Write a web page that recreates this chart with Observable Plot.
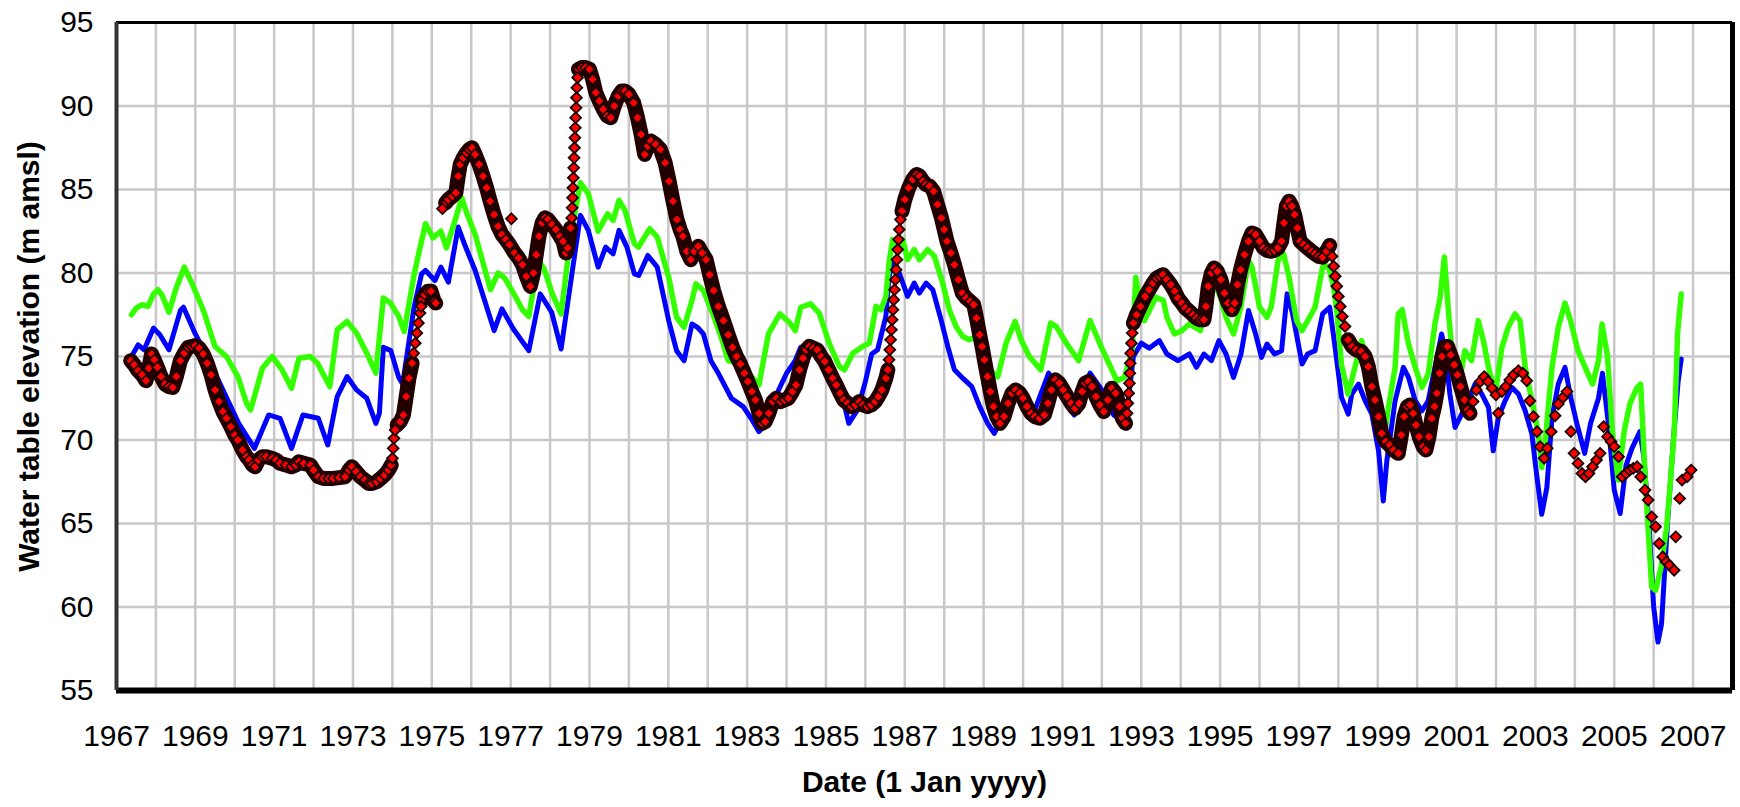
<!DOCTYPE html>
<html>
<head>
<meta charset="utf-8">
<script src="https://cdn.jsdelivr.net/npm/d3@7"></script>
<script src="https://cdn.jsdelivr.net/npm/@observablehq/plot@0.6"></script>
<style>
  html, body { margin: 0; padding: 0; background: #fff; }
  #chart svg { display: block; }
</style>
</head>
<body>
<div id="chart"></div>
<script>
// ---- Data ----
const xTickLabels = [1967, 1969, 1971, 1973, 1975, 1977, 1979, 1981, 1983, 1985, 1987, 1989, 1991, 1993, 1995, 1997, 1999, 2001, 2003, 2005, 2007];
const yTicks = [55, 60, 65, 70, 75, 80, 85, 90, 95];
const gridYears = [1967,1968,1969,1970,1971,1972,1973,1974,1975,1976,1977,1978,1979,1980,1981,1982,1983,1984,1985,1986,1987,1988,1989,1990,1991,1992,1993,1994,1995,1996,1997,1998,1999,2000,2001,2002,2003,2004,2005,2006,2007,2008];

// modelled series (green)
const greenSeries = [
[1967.38,77.5],[1967.5,77.9],[1967.65,78.1],[1967.8,78.0],[1967.94,78.75],[1968.05,79.0],[1968.15,78.7],[1968.33,77.65],
[1968.5,79.0],[1968.62,79.75],[1968.72,80.35],[1968.91,79.4],[1969.2,77.8],[1969.5,75.6],[1969.79,75.0],[1970.08,73.8],
[1970.3,72.2],[1970.4,71.8],[1970.5,72.6],[1970.7,74.3],[1970.95,75.0],[1971.2,74.2],[1971.44,73.1],[1971.63,74.9],
[1971.92,75.0],[1972.1,74.6],[1972.41,73.2],[1972.6,76.6],[1972.85,77.1],[1973.09,76.4],[1973.35,75.2],[1973.58,74.0],
[1973.77,78.5],[1973.95,78.2],[1974.16,77.4],[1974.3,76.5],[1974.55,79.9],[1974.7,81.5],[1974.84,82.95],[1975.03,82.1],
[1975.23,82.5],[1975.37,81.5],[1975.57,83.0],[1975.76,84.5],[1975.9,83.5],[1976.1,82.3],[1976.49,79.0],[1976.68,80.0],
[1976.85,79.7],[1977.07,78.8],[1977.3,77.8],[1977.46,77.4],[1977.7,80.75],[1977.85,80.25],[1978.05,78.8],[1978.28,77.55],
[1978.53,82.3],[1978.77,85.4],[1978.97,84.75],[1979.22,82.5],[1979.46,83.55],[1979.6,83.15],[1979.75,84.35],[1979.9,83.75],
[1980.14,81.75],[1980.24,81.55],[1980.53,82.65],[1980.72,82.15],[1981.01,79.75],[1981.21,77.35],[1981.4,76.75],[1981.6,78.35],
[1981.7,79.35],[1981.89,78.95],[1982.13,77.55],[1982.37,75.95],[1982.52,74.75],[1982.76,74.65],[1983.05,73.95],[1983.3,73.3],
[1983.54,76.35],[1983.83,77.55],[1984.07,77.05],[1984.22,76.55],[1984.36,77.95],[1984.61,78.15],[1984.83,77.6],[1985.08,75.8],
[1985.34,74.4],[1985.47,74.2],[1985.68,75.2],[1985.93,75.6],[1986.1,75.8],[1986.27,78.0],[1986.4,77.8],[1986.52,78.6],
[1986.6,80.6],[1986.69,82.0],[1986.82,81.2],[1986.95,82.0],[1987.07,80.8],[1987.24,81.4],[1987.37,80.8],[1987.58,81.4],
[1987.75,81.0],[1987.96,79.4],[1988.13,77.8],[1988.3,76.8],[1988.47,76.2],[1988.64,76.0],[1988.81,76.2],[1988.98,75.0],
[1989.15,74.2],[1989.36,73.8],[1989.57,75.8],[1989.8,77.1],[1989.95,76.0],[1990.16,75.0],[1990.45,74.2],[1990.7,77.0],
[1990.84,76.8],[1991.11,75.75],[1991.41,74.75],[1991.7,77.15],[1991.99,75.55],[1992.38,73.55],[1992.57,73.75],[1992.77,75.35],
[1992.86,79.75],[1992.95,78.5],[1993.08,77.15],[1993.37,78.55],[1993.56,78.35],[1993.65,77.35],[1993.84,76.35],[1994.03,76.55],
[1994.22,76.95],[1994.5,76.55],[1994.69,78.35],[1994.87,79.35],[1995.01,78.55],[1995.15,77.35],[1995.34,76.35],[1995.53,78.0],
[1995.72,80.75],[1995.81,80.35],[1996.0,77.95],[1996.19,77.35],[1996.3,78.0],[1996.47,80.75],[1996.61,81.15],[1996.75,79.75],
[1996.94,77.15],[1997.08,76.55],[1997.27,77.35],[1997.41,77.95],[1997.6,80.35],[1997.75,80.4],[1997.88,79.15],[1997.97,77.5],
[1998.08,74.5],[1998.25,72.75],[1998.42,74.35],[1998.59,75.95],[1998.72,74.75],[1998.85,72.35],[1999.02,70.35],[1999.14,69.75],
[1999.27,71.95],[1999.44,74.35],[1999.52,77.55],[1999.62,77.8],[1999.78,75.75],[1999.95,74.35],[2000.12,73.15],[2000.28,73.95],
[2000.45,76.95],[2000.58,78.5],[2000.69,80.95],[2000.8,77.5],[2000.9,74.8],[2001.05,73.15],[2001.21,75.35],[2001.38,74.75],
[2001.55,77.15],[2001.68,75.95],[2001.81,74.35],[2001.98,72.75],[2002.15,75.55],[2002.31,76.75],[2002.48,77.55],[2002.61,77.15],
[2002.74,74.35],[2002.91,72.35],[2003.08,70.35],[2003.16,68.35],[2003.25,69.95],[2003.42,74.35],[2003.58,76.75],[2003.75,78.2],
[2003.89,77.15],[2004.08,75.35],[2004.26,74.35],[2004.45,73.35],[2004.6,74.75],[2004.69,76.95],[2004.83,75.0],[2004.95,70.5],
[2005.1,67.6],[2005.25,70.5],[2005.4,72.2],[2005.58,73.15],[2005.67,73.35],[2005.8,67.0],[2005.95,61.2],[2006.05,61.0],
[2006.19,62.4],[2006.33,64.8],[2006.42,67.4],[2006.52,70.4],[2006.61,76.5],[2006.7,78.75]
];

// modelled series (blue)
const blueSeries = [
[1967.38,75.0],[1967.55,75.7],[1967.7,75.4],[1967.94,76.7],[1968.1,76.3],[1968.33,75.4],[1968.62,77.75],[1968.7,77.95],
[1969.0,76.35],[1969.25,75.2],[1969.5,74.0],[1969.8,72.5],[1970.1,71.0],[1970.5,69.5],[1970.86,71.5],[1971.15,71.3],
[1971.44,69.5],[1971.73,71.5],[1972.12,71.3],[1972.36,69.7],[1972.6,72.6],[1972.85,73.8],[1973.09,73.0],[1973.35,72.5],
[1973.58,71.0],[1973.67,71.6],[1973.77,75.55],[1973.96,75.35],[1974.16,73.75],[1974.26,73.35],[1974.55,77.95],[1974.74,79.95],
[1974.84,80.15],[1975.08,79.55],[1975.23,80.35],[1975.42,79.45],[1975.67,82.75],[1975.85,81.6],[1976.1,80.15],[1976.58,76.55],
[1976.78,77.85],[1977.07,76.65],[1977.46,75.35],[1977.75,78.75],[1978.04,77.65],[1978.28,75.45],[1978.53,79.55],[1978.77,83.45],
[1978.97,82.55],[1979.22,80.35],[1979.41,81.55],[1979.6,81.15],[1979.75,82.55],[1979.95,81.55],[1980.14,79.95],[1980.25,79.85],
[1980.48,81.05],[1980.72,80.35],[1981.01,77.15],[1981.21,75.35],[1981.4,74.75],[1981.6,76.95],[1981.74,76.75],[1981.89,76.35],
[1982.08,74.75],[1982.28,73.95],[1982.6,72.5],[1982.9,72.0],[1983.1,71.3],[1983.3,70.5],[1983.5,71.0],[1983.7,72.5],
[1984.0,74.0],[1984.22,74.75],[1984.36,75.55],[1984.61,75.75],[1985.0,74.35],[1985.38,72.95],[1985.58,71.0],[1985.8,71.8],
[1986.0,73.5],[1986.16,75.15],[1986.31,75.4],[1986.52,77.4],[1986.6,79.8],[1986.73,80.8],[1986.86,80.0],[1987.07,78.6],
[1987.24,79.4],[1987.37,78.8],[1987.54,79.4],[1987.71,79.0],[1987.92,77.2],[1988.09,75.6],[1988.26,74.2],[1988.47,73.7],
[1988.7,73.2],[1988.9,72.0],[1989.1,71.0],[1989.27,70.4],[1989.5,71.5],[1989.7,73.0],[1990.0,72.5],[1990.3,71.8],
[1990.65,74.0],[1991.0,72.5],[1991.3,71.5],[1991.7,74.0],[1992.0,73.0],[1992.3,71.5],[1992.6,71.0],[1992.8,75.0],
[1993.0,75.8],[1993.2,75.5],[1993.46,75.95],[1993.65,75.15],[1993.93,74.75],[1994.22,75.15],[1994.4,74.35],[1994.59,75.15],
[1994.78,74.75],[1994.97,75.95],[1995.15,75.15],[1995.34,73.75],[1995.53,75.15],[1995.72,77.75],[1995.9,76.35],[1996.05,74.95],
[1996.19,75.75],[1996.38,75.15],[1996.56,75.35],[1996.7,78.75],[1996.84,77.55],[1997.08,74.55],[1997.22,75.15],[1997.41,75.35],
[1997.6,77.55],[1997.78,77.95],[1997.92,75.5],[1998.08,72.55],[1998.25,71.55],[1998.34,72.75],[1998.51,73.35],[1998.68,72.35],
[1998.85,71.55],[1999.02,69.35],[1999.1,67.35],[1999.14,66.35],[1999.23,68.75],[1999.44,72.35],[1999.65,74.35],[1999.78,73.75],
[1999.95,72.35],[2000.12,71.75],[2000.28,72.35],[2000.45,74.35],[2000.62,76.35],[2000.71,75.35],[2000.83,72.75],[2000.96,70.75],
[2001.13,71.55],[2001.3,72.35],[2001.47,73.35],[2001.64,72.75],[2001.81,71.95],[2001.93,69.35],[2002.06,71.35],[2002.23,72.35],
[2002.4,73.15],[2002.57,72.75],[2002.74,71.75],[2002.91,70.35],[2003.03,67.95],[2003.16,65.55],[2003.29,67.15],[2003.42,71.35],
[2003.58,73.35],[2003.75,74.35],[2003.9,72.5],[2004.05,71.0],[2004.25,69.2],[2004.4,71.0],[2004.6,72.5],[2004.7,74.0],
[2004.85,71.0],[2005.0,67.0],[2005.15,65.6],[2005.3,68.5],[2005.45,69.5],[2005.65,70.5],[2005.75,69.0],[2005.88,65.0],
[2006.0,60.0],[2006.11,57.9],[2006.2,59.0],[2006.35,65.0],[2006.5,70.0],[2006.62,73.5],[2006.7,74.85]
];

// observed water table, densely measured stretches (null = break in the dense band)
const obsDense = [
[1967.36,74.75],[1967.45,74.5],[1967.55,74.15],[1967.65,73.9],[1967.75,73.55],[1967.82,74.3],[1967.89,75.15],[1967.96,74.8],
[1968.04,74.35],[1968.13,73.8],[1968.23,73.35],[1968.33,73.2],[1968.43,73.15],[1968.52,73.8],[1968.62,74.75],[1968.72,75.2],
[1968.82,75.55],[1968.91,75.6],[1969.0,75.65],[1969.1,75.5],[1969.2,75.15],[1969.3,74.6],[1969.4,73.9],[1969.5,73.0],
[1969.6,72.3],[1969.7,71.7],[1969.79,71.3],[1969.9,70.8],[1970.0,70.3],[1970.08,70.0],[1970.2,69.4],[1970.3,69.0],
[1970.37,68.8],[1970.45,68.5],[1970.52,68.4],[1970.6,68.8],[1970.7,69.0],[1970.8,69.0],[1970.95,68.9],[1971.05,68.8],
[1971.15,68.6],[1971.3,68.5],[1971.44,68.4],[1971.55,68.5],[1971.63,68.7],[1971.75,68.6],[1971.92,68.5],[1972.0,68.2],
[1972.12,67.8],[1972.25,67.7],[1972.38,67.7],[1972.5,67.7],[1972.65,67.75],[1972.8,67.8],[1972.9,68.2],[1972.97,68.4],
[1973.08,68.1],[1973.19,67.8],[1973.3,67.6],[1973.4,67.4],[1973.48,67.4],[1973.6,67.5],[1973.7,67.7],[1973.8,67.9],
[1973.9,68.2],[1973.97,68.5],
[1973.99,null],
[1974.12,70.9],[1974.2,71.1],[1974.28,71.5],[1974.35,72.6],[1974.42,73.7],[1974.5,74.6],
[1974.53,null],
[1974.76,78.4],[1974.82,78.7],[1974.9,78.9],[1974.98,78.9],[1975.06,78.3],[1975.1,78.2],
[1975.18,null],
[1975.35,84.2],[1975.42,84.4],[1975.52,84.6],[1975.61,84.8],[1975.67,85.8],[1975.72,86.5],[1975.8,86.9],
[1975.88,87.2],[1975.95,87.4],[1976.02,87.5],[1976.1,87.1],[1976.2,86.5],[1976.3,85.8],[1976.39,85.1],[1976.48,84.3],
[1976.58,83.5],[1976.68,82.8],[1976.78,82.3],[1976.88,82.0],[1976.97,81.7],[1977.1,81.2],[1977.2,80.9],[1977.3,80.5],
[1977.4,79.8],[1977.5,79.2],[1977.58,80.0],[1977.65,81.1],[1977.72,82.2],[1977.8,83.0],[1977.87,83.3],[1977.95,83.2],
[1978.05,82.9],[1978.15,82.6],[1978.25,82.2],[1978.33,81.9],[1978.4,81.2],[1978.45,81.5],[1978.52,82.7],
[1978.54,null],
[1978.72,92.2],[1978.8,92.3],[1978.9,92.3],[1979.0,92.2],
[1979.08,91.6],[1979.16,90.8],[1979.25,90.3],[1979.35,89.8],[1979.45,89.4],[1979.54,89.3],[1979.63,90.0],[1979.73,90.6],
[1979.82,90.9],[1979.9,90.9],[1980.0,90.7],[1980.12,90.2],[1980.22,89.3],[1980.31,88.3],[1980.4,87.1],[1980.48,87.6],
[1980.56,87.9],[1980.68,87.7],[1980.8,87.4],[1980.92,86.6],[1981.02,85.5],[1981.12,84.3],[1981.22,83.2],[1981.3,82.6],
[1981.37,82.2],[1981.47,81.3],[1981.57,80.8],[1981.66,81.3],[1981.76,81.6],[1981.86,81.2],[1981.96,80.8],[1982.05,79.9],
[1982.15,78.95],[1982.27,78.0],[1982.4,77.15],[1982.52,76.3],[1982.63,75.55],[1982.73,75.0],[1982.83,74.55],[1982.93,74.0],
[1983.02,73.5],[1983.12,72.9],[1983.21,72.4],[1983.3,71.6],[1983.38,71.0],[1983.46,71.1],[1983.55,71.6],[1983.65,72.3],
[1983.74,72.5],[1983.85,72.3],[1983.95,72.4],[1984.05,72.5],[1984.15,72.9],[1984.24,73.3],[1984.33,74.2],[1984.42,74.9],
[1984.5,75.4],[1984.58,75.6],[1984.68,75.5],[1984.78,75.4],[1984.88,75.0],[1984.97,74.7],[1985.07,74.2],[1985.17,73.7],
[1985.26,73.3],[1985.36,72.8],[1985.45,72.4],[1985.55,72.2],[1985.65,72.0],[1985.75,72.1],[1985.85,72.3],[1985.94,72.1],
[1986.05,72.0],[1986.15,72.1],[1986.25,72.3],[1986.33,72.6],[1986.42,73.0],[1986.52,73.7],[1986.57,74.2],
[1986.58,null],
[1986.93,83.7],
[1987.0,84.4],[1987.1,85.1],[1987.2,85.6],[1987.3,85.9],[1987.38,85.8],[1987.46,85.5],[1987.54,85.3],[1987.63,85.2],
[1987.73,84.9],[1987.83,84.1],[1987.93,83.3],[1988.0,82.6],[1988.07,81.9],[1988.17,81.2],[1988.26,80.5],[1988.36,79.6],
[1988.46,78.8],[1988.56,78.5],[1988.66,78.3],[1988.75,78.1],[1988.82,77.3],[1988.9,76.3],[1988.96,75.6],[1989.02,74.8],
[1989.1,73.8],[1989.17,72.9],[1989.25,72.0],[1989.33,71.4],[1989.42,71.0],[1989.52,71.4],[1989.62,72.2],[1989.72,72.8],
[1989.81,73.0],[1989.92,72.8],[1990.0,72.5],[1990.1,72.0],[1990.2,71.6],[1990.3,71.4],[1990.42,71.3],[1990.54,71.5],
[1990.63,72.2],[1990.72,73.0],[1990.82,73.6],[1990.92,73.4],[1991.02,73.0],[1991.12,72.6],[1991.22,72.2],[1991.32,71.9],
[1991.42,72.2],[1991.5,72.9],[1991.58,73.4],[1991.66,73.5],[1991.75,73.2],[1991.85,72.6],[1991.95,72.1],[1992.05,71.7],
[1992.15,72.4],[1992.25,73.1],[1992.35,72.8],[1992.45,72.0],[1992.52,71.3],[1992.6,71.0],
[1992.62,null],
[1992.8,77.0],[1992.88,77.5],[1992.98,78.0],[1993.1,78.6],[1993.2,79.0],[1993.3,79.4],
[1993.39,79.7],[1993.47,79.8],[1993.55,79.9],[1993.65,79.6],[1993.75,79.3],[1993.85,78.9],[1993.93,78.5],[1994.03,78.2],
[1994.12,77.9],[1994.22,77.7],[1994.31,77.5],[1994.4,77.3],[1994.5,77.2],[1994.59,77.2],[1994.64,78.0],[1994.7,79.2],
[1994.78,80.0],[1994.85,80.3],[1994.93,80.1],[1995.02,79.6],[1995.11,78.8],[1995.2,78.2],[1995.3,77.8],[1995.37,78.2],
[1995.44,79.3],[1995.52,80.2],[1995.62,81.1],[1995.72,81.9],[1995.81,82.4],[1995.9,82.3],[1996.0,81.9],[1996.1,81.5],
[1996.19,81.35],[1996.28,81.3],[1996.38,81.35],[1996.47,81.5],[1996.56,81.9],[1996.62,83.0],[1996.68,84.0],[1996.75,84.3],
[1996.82,84.0],[1996.89,83.5],[1996.96,82.7],[1997.03,81.9],[1997.12,81.7],[1997.22,81.5],[1997.32,81.3],[1997.41,81.15],
[1997.5,81.0],[1997.6,80.95],[1997.7,81.3],[1997.78,81.65],
[1997.82,null],
[1998.25,76.0],[1998.35,75.6],[1998.45,75.4],[1998.58,75.3],[1998.68,75.0],[1998.76,74.4],[1998.85,73.2],[1998.93,72.4],
[1999.02,71.4],[1999.1,70.4],[1999.2,69.9],[1999.3,69.7],[1999.4,69.4],[1999.52,69.2],[1999.6,70.3],[1999.67,71.4],
[1999.75,72.0],[1999.82,72.1],[1999.9,71.6],[1999.97,70.9],[2000.05,70.2],[2000.15,69.6],[2000.22,69.4],[2000.3,70.2],
[2000.37,71.3],[2000.44,72.0],[2000.5,72.8],[2000.57,74.0],[2000.63,75.0],[2000.7,75.6],[2000.77,75.6],[2000.85,75.1],
[2000.94,74.5],[2001.02,73.9],[2001.1,73.2],[2001.2,72.4],[2001.28,71.8],[2001.34,71.6]
];

// observed water table, separate readings (steep rises, isolated values, sparser later record)
const obsSparse = [
[1974.0,68.9],[1974.02,69.5],[1974.04,70.1],[1974.07,70.6],
[1974.54,75.2],[1974.58,75.8],[1974.62,76.4],[1974.66,77.0],[1974.7,77.6],[1974.73,78.0],
[1975.27,83.85],[1977.02,83.25],
[1978.55,83.3],[1978.56,83.9],[1978.57,84.5],[1978.58,85.1],[1978.59,85.7],[1978.6,86.3],[1978.61,86.9],[1978.62,87.5],
[1978.63,88.1],[1978.64,88.7],[1978.65,89.3],[1978.66,89.9],[1978.67,90.5],[1978.68,91.1],[1978.7,91.7],
[1986.6,74.8],[1986.62,75.4],[1986.64,76.0],[1986.66,76.6],[1986.68,77.2],[1986.7,77.8],[1986.72,78.4],[1986.74,79.0],
[1986.76,79.6],[1986.78,80.2],[1986.8,80.8],[1986.82,81.4],[1986.84,82.0],[1986.86,82.6],[1986.89,83.2],
[1992.64,71.6],[1992.66,72.2],[1992.68,72.8],[1992.7,73.4],[1992.71,74.0],[1992.72,74.6],[1992.73,75.2],[1992.75,75.8],
[1992.77,76.4],
[1997.84,81.0],[1997.88,80.4],[1997.92,79.8],[1997.96,79.2],[1998.0,78.6],[1998.05,78.0],[1998.1,77.4],[1998.17,76.8],
[2001.42,72.3],[2001.5,73.0],[2001.6,73.5],[2001.7,73.8],[2001.8,73.5],[2001.9,73.1],[2002.0,72.7],[2002.06,71.6],
[2002.15,72.9],[2002.25,73.2],[2002.35,73.6],[2002.45,73.9],[2002.57,74.15],[2002.68,74.0],[2002.78,73.55],[2002.86,72.35],
[2002.95,71.4],[2003.04,70.5],[2003.12,69.6],[2003.22,68.9],[2003.3,69.5],[2003.4,70.5],[2003.5,71.45],[2003.58,72.15],
[2003.7,72.55],[2003.8,72.9],[2003.9,70.5],[2003.98,69.2],[2004.08,68.6],[2004.18,68.0],[2004.27,67.8],[2004.36,68.0],
[2004.45,68.4],[2004.55,68.8],[2004.64,69.2],[2004.73,70.8],[2004.83,70.2],[2004.92,69.9],[2005.0,69.6],[2005.11,69.0],
[2005.2,67.8],[2005.3,68.0],[2005.39,68.2],[2005.48,68.3],[2005.58,68.4],[2005.67,67.8],[2005.78,67.0],[2005.86,66.4],
[2005.95,65.4],[2006.05,64.8],[2006.14,63.8],[2006.23,63.0],[2006.32,62.7],[2006.4,62.5],[2006.52,62.2],[2006.56,64.2],
[2006.66,66.5],[2006.72,67.6],[2006.85,67.8],[2006.95,68.2]
];

const yTitle = "Water table elevation (m amsl)";
const xTitle = "Date (1 Jan yyyy)";

// ---- Chart ----
const diamond = {
  draw(ctx, size) {
    const r = Math.sqrt(size / 2);
    ctx.moveTo(0, -r); ctx.lineTo(r, 0); ctx.lineTo(0, r); ctx.lineTo(-r, 0); ctx.closePath();
  }
};
const X = d => d[0], Y = d => d[1];

const chart = Plot.plot({
  width: 1740,
  height: 807,
  marginLeft: 116,
  marginRight: 8,
  marginTop: 22,
  marginBottom: 117,
  style: { fontFamily: "'Liberation Sans', Arial, sans-serif", fontSize: "30px", color: "black", background: "white" },
  x: { domain: [1967, 2008], axis: null },
  y: { domain: [55, 95], axis: null },
  marks: [
    Plot.gridX(gridYears, { stroke: "#c8c8c8", strokeOpacity: 1, strokeWidth: 2.5 }),
    Plot.gridY(yTicks, { stroke: "#c8c8c8", strokeOpacity: 1, strokeWidth: 2.5 }),
    Plot.line(blueSeries, { x: X, y: Y, stroke: "#0000ff", strokeWidth: 5 }),
    Plot.line(greenSeries, { x: X, y: Y, stroke: "#33ff00", strokeWidth: 5.5 }),
    Plot.line(obsDense, { x: X, y: Y, stroke: "#220000", strokeWidth: 15 }),
    Plot.dot(obsDense.concat(obsSparse), { x: X, y: Y, symbol: diamond, r: 4.3, fill: "#ff0000", stroke: "#1a0000", strokeWidth: 1.8 }),
    Plot.ruleY([55], { stroke: "black", strokeWidth: 6 }),
    Plot.ruleY([95], { stroke: "black", strokeWidth: 3 }),
    Plot.ruleX([1967], { stroke: "#333", strokeWidth: 4 }),
    Plot.ruleX([2008], { stroke: "black", strokeWidth: 5 }),
    Plot.axisX(xTickLabels, { anchor: "bottom", tickSize: 0, tickPadding: 34, tickFormat: d => String(d), fontSize: 30, label: null }),
    Plot.axisY(yTicks, { anchor: "left", tickSize: 0, tickPadding: 23, fontSize: 30, label: null }),
    Plot.text([yTitle], { frameAnchor: "left", dx: -87, rotate: -90, textAnchor: "middle", lineAnchor: "middle", fontWeight: "bold", fontSize: 30 }),
    Plot.text([xTitle], { frameAnchor: "bottom", dy: 92, textAnchor: "middle", lineAnchor: "middle", fontWeight: "bold", fontSize: 30 })
  ]
});
document.getElementById("chart").appendChild(chart);
</script>
</body>
</html>
